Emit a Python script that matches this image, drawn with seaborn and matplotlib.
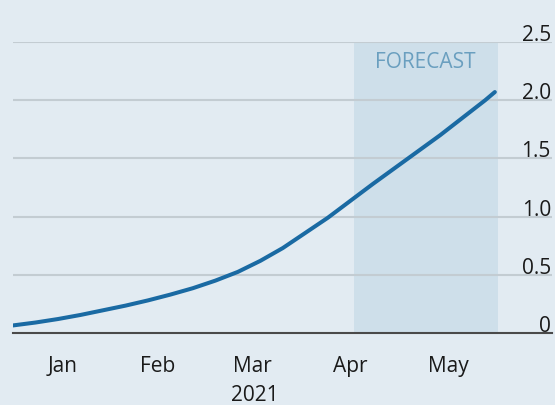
import datetime as dt

import matplotlib
matplotlib.use("Agg")
import matplotlib.pyplot as plt
import pandas as pd
import seaborn as sns

# Weekly readings of the series (last point is the end of May)
dates = [
    "2021-01-01", "2021-01-08", "2021-01-15", "2021-01-22", "2021-01-29",
    "2021-02-05", "2021-02-12", "2021-02-19", "2021-02-26", "2021-03-05",
    "2021-03-12", "2021-03-19", "2021-03-26", "2021-04-02", "2021-04-09",
    "2021-04-16", "2021-04-23", "2021-04-30", "2021-05-07", "2021-05-14",
    "2021-05-21", "2021-05-28", "2021-05-31",
]
values = [
    0.065, 0.09, 0.12, 0.155, 0.195,
    0.235, 0.28, 0.33, 0.385, 0.45,
    0.525, 0.62, 0.73, 0.86, 0.99,
    1.135, 1.28, 1.42, 1.56, 1.70,
    1.85, 2.00, 2.07,
]

forecast_start = "2021-04-17"
forecast_end = "2021-06-01"
forecast_label = "FORECAST"

month_starts = ["2021-01-01", "2021-02-01", "2021-03-01", "2021-04-01",
                "2021-05-01", "2021-06-01"]
month_mids = ["2021-01-16 12:00", "2021-02-15 00:00", "2021-03-16 12:00",
              "2021-04-16 00:00", "2021-05-16 12:00"]
month_labels = ["Jan", "Feb", "Mar", "Apr", "May"]
year_label = "2021"

y_ticks = [0, 0.5, 1.0, 1.5, 2.0, 2.5]
y_labels = ["0", "0.5", "1.0", "1.5", "2.0", "2.5"]

BG = "#e2ebf2"
SHADE = "#cedfea"
GRID = "#c3ccd2"
LINE = "#1a6aa3"
TEXT = "#1a1a1a"
FORECAST_TXT = "#6a9fbf"

sns.set_style("white")
plt.rcParams["font.family"] = ["Open Sans", "DejaVu Sans"]

df = pd.DataFrame({"date": pd.to_datetime(dates), "value": values})

fig = plt.figure(figsize=(5.55, 4.06), dpi=100, facecolor=BG)
ax = fig.add_axes([13 / 555, 72 / 406, 539 / 555, 291 / 406])
ax.set_facecolor(BG)

# forecast band
fc_start = pd.Timestamp(forecast_start)
fc_end = pd.Timestamp(forecast_end)
ax.axvspan(fc_start, fc_end, ymin=0, ymax=1, color=SHADE, lw=0, zorder=0.5)

# horizontal gridlines
for v in y_ticks[1:]:
    ax.axhline(v, color=GRID, lw=1.5, zorder=1)

sns.lineplot(data=df, x="date", y="value", ax=ax, color=LINE, lw=2.9,
             solid_capstyle="round", zorder=3)

ax.set_xlim(dt.datetime(2021, 1, 1), dt.datetime(2021, 6, 17, 19))
ax.set_ylim(0, 2.5)

for s in ["top", "right", "left"]:
    ax.spines[s].set_visible(False)
ax.spines["bottom"].set_color("#4a4a4a")
ax.spines["bottom"].set_linewidth(1.5)
ax.spines["bottom"].set_zorder(4)

# y labels sit above their gridlines at the right edge
ax.set_yticks([])
for v, lab in zip(y_ticks, y_labels):
    ax.annotate(lab, xy=(1, v), xycoords=("axes fraction", "data"),
                xytext=(-0.8, 1.5), textcoords="offset points",
                ha="right", va="baseline", fontsize=15, color=TEXT)

# month boundaries as ticks, month names centred between them
ax.set_xticks(pd.to_datetime(month_starts))
ax.set_xticklabels([])
ax.set_xticks(pd.to_datetime(month_mids), minor=True)
ax.set_xticklabels(month_labels, minor=True)
ax.tick_params(axis="x", which="major", length=8, width=1.5,
               color="#4a4a4a", direction="out")
ax.tick_params(axis="x", which="minor", length=0, pad=16,
               labelsize=15, labelcolor=TEXT)
ax.xaxis.get_major_ticks()[0].tick1line.set_markersize(13)

mid_forecast = fc_start + (fc_end - fc_start) / 2
ax.text(mid_forecast, 2.285, forecast_label, ha="center", va="baseline",
        fontsize=15, color=FORECAST_TXT, zorder=2)

fig.text(255 / 555, 5 / 406, year_label, ha="center", va="baseline",
         fontsize=15, color=TEXT)

ax.set_xlabel("")
ax.set_ylabel("")

fig.savefig("out.png", dpi=100, facecolor=BG)
